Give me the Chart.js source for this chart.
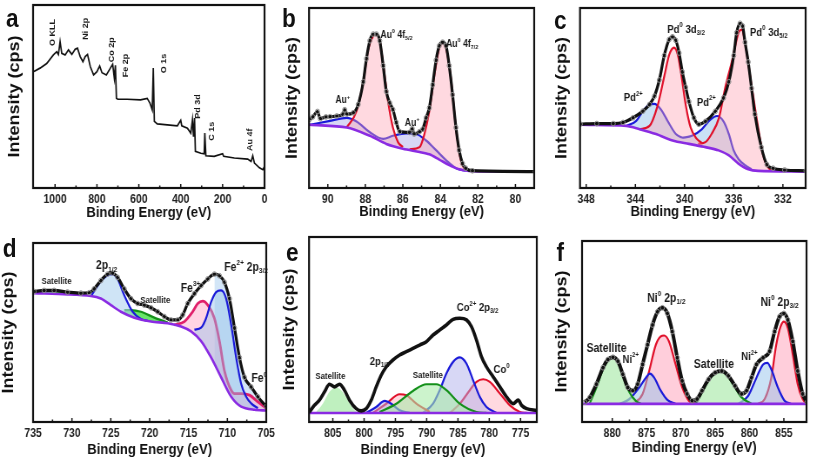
<!DOCTYPE html>
<html><head><meta charset="utf-8">
<script src="https://cdn.jsdelivr.net/npm/chart.js@4/dist/chart.umd.min.js"></script>
<style>
html,body{margin:0;padding:0;background:#fff;overflow:hidden;width:817px;height:465px;}
#fig{position:absolute;left:0;top:0;width:939px;height:465px;transform:scaleX(0.87);transform-origin:0 0;}
canvas{position:absolute;}
.lt{position:absolute;font:bold 26px "Liberation Sans",Arial,sans-serif;color:#111;transform:translate(-50%,-50%);line-height:1;}
</style></head><body>
<div id="fig">
<canvas id="ca" width="318" height="219" style="left:0px;top:3px"></canvas>
<canvas id="cb" width="299" height="219" style="left:320px;top:3px"></canvas>
<canvas id="cc" width="301" height="219" style="left:630px;top:3px"></canvas>
<canvas id="cd" width="319" height="227" style="left:0px;top:238px"></canvas>
<canvas id="ce" width="299" height="230" style="left:320px;top:235px"></canvas>
<canvas id="cf" width="302" height="229" style="left:630px;top:236px"></canvas>
<div class="lt" style="left:14px;top:18px">a</div>
<div class="lt" style="left:332px;top:18px">b</div>
<div class="lt" style="left:644px;top:20px">c</div>
<div class="lt" style="left:11px;top:248px">d</div>
<div class="lt" style="left:336px;top:252px">e</div>
<div class="lt" style="left:644px;top:252px">f</div>
</div>
<script>
const FF = '"Liberation Sans", Arial, sans-serif';

// ---------- tick labels ----------
const a_ticks = [0, 200, 400, 600, 800, 1000];
const b_ticks = [80, 82, 84, 86, 88, 90];
const c_ticks = [332, 336, 340, 344, 348];
const d_ticks = [705, 710, 715, 720, 725, 730, 735];
const e_ticks = [775, 780, 785, 790, 795, 800, 805];
const f_ticks = [855, 860, 865, 870, 875, 880];

// ---------- panel a : survey ----------
const a_survey = [[1101,63.6],[1072,65.5],[1040,68],[1008,72.7],[992,74.5],[984,73],[976,80],[968,73.6],[952,72.7],[936,75.5],[920,73],[904,75.8],[893,76.4],[880,71.8],[867,69],[856,71.8],[845,73],[832,66.4],[816,61.8],[800,63.6],[787,66.7],[776,63],[755,61.8],[736,65.5],[725,67.6],[717,60],[712,67],[707,49],[701,48.5],[656,48.5],[592,48.2],[560,49],[547,46.4],[536,42.7],[531,65.5],[526,36.4],[512,35],[464,34.5],[416,34],[400,37],[395,34],[368,32.7],[352,30],[344,37.3],[339,28],[334,38.2],[330,20],[304,19],[288,18.7],[285,30],[280,17.6],[240,17.3],[200,18.7],[195,17.3],[144,16.4],[80,15.8],[64,14.5],[56,17.6],[48,13.6],[24,11],[8,10],[0,11.8]];
const a_labels = [['O KLL',1011,85],['Ni 2p',853,87],['Co 2p',728,75.5],['Fe 2p',664,67],['O 1s',480,68],['Pd 3d',317,44.5],['C 1s',253,31],['Au 4f',67,26.4]];

// ---------- panel b : Au 4f ----------
const b_bg = [[90.97,35.1],[88.99,33.6],[87.76,29],[86.88,24.5],[86.0,21.8],[85.11,20],[84.59,18.7],[84.06,15.8],[83.53,12.7],[83.0,10.4],[82.47,9.5],[81.59,9.2],[78.94,9.1]];
const b_env = [[90.97,38.2],[90.8,39.5],[90.55,42.5],[90.4,38.5],[90.1,39.5],[89.88,39.6],[89.52,40],[89.2,41],[89.1,43.5],[88.99,41],[88.64,41.8],[88.38,46.4],[88.11,59],[87.94,71.8],[87.76,81.8],[87.58,85.5],[87.41,85.5],[87.23,81.8],[87.05,68],[86.88,53.6],[86.70,47.3],[86.53,43.6],[86.35,36.4],[86.17,31.3],[85.64,30.9],[85.5,33],[85.4,30],[85.11,31.3],[84.94,32.7],[84.76,39],[84.59,44.5],[84.41,57.3],[84.23,71],[84.06,79],[83.88,81],[83.70,79],[83.53,68],[83.35,51.8],[83.17,33.6],[83.0,21],[82.82,13.6],[82.65,11],[82.29,9.6],[78.94,9.1]];
const b_au0a = [[88.99,33.7],[88.47,42.7],[88.11,59],[87.85,77],[87.58,84.5],[87.41,85.5],[87.23,81.8],[87.05,69],[86.79,48.2],[86.53,33.6],[86.26,25.5],[86.0,22.7]];
const b_au0b = [[85.64,21.5],[85.11,22.7],[84.85,30],[84.59,42.7],[84.32,62.7],[84.06,78],[83.88,80.5],[83.70,78],[83.44,61],[83.17,33.6],[82.91,15.5],[82.65,10.4],[82.29,9.6]];
const b_au1 = [[90.97,35.1],[89.88,37.3],[88.99,39],[88.47,37],[87.76,31],[87.05,27.3],[86.53,29],[85.82,30.4],[85.29,30],[84.76,26.4],[84.23,21],[83.70,15.5],[83.17,11],[82.65,9.6]];
const b_labels = [['Au^{0} 4f_{5/2}',87.2,84.8],['Au^{0} 4f_{7/2}',83.7,80],['Au^{+}',89.6,48.5],['Au^{+}',85.9,36]];

// ---------- panel c : Pd 3d ----------
const c_bg = [[348.48,35.1],[344.73,34.5],[343.66,32.7],[342.32,30],[340.98,26.4],[339.64,24.5],[338.30,22.7],[337.23,20.9],[336.42,18.2],[335.62,13.6],[334.81,10.4],[334.01,9.5],[330.12,9.1]];
const c_env = [[348.48,35.5],[347.14,35.8],[345.80,35.8],[345.0,36.4],[344.19,39],[343.39,42.7],[342.85,46.4],[342.45,51],[342.05,60],[341.65,73.6],[341.25,82.5],[340.98,84],[340.71,82],[340.44,75],[340.18,64.5],[339.91,56],[339.64,48],[339.24,39],[338.84,35.4],[338.3,37],[337.5,42.6],[336.83,50],[336.4,59],[336.0,73.6],[335.76,86.3],[335.48,91.5],[335.28,90],[335.08,81],[334.82,70],[334.55,55.4],[334.28,41],[333.75,22.6],[333.3,13],[332.8,11],[331.86,10],[330.12,9.5]];
const c_pd0a = [[343.66,32.7],[342.85,34.5],[342.18,46],[341.65,62],[341.25,74],[340.85,78],[340.55,74],[340.3,64.5],[339.9,46],[339.5,33.5],[339.0,27.3],[338.6,25]];
const c_pd0b = [[338.9,24.5],[338.3,25.5],[337.8,30],[337.2,39],[336.7,55.4],[336.16,70],[335.6,86.3],[335.35,88],[335.08,81],[334.55,57],[334.0,33],[333.6,18],[333.2,11.5],[332.8,9.6]];
const c_pd2a = [[344.73,34.5],[343.93,37.3],[343.39,42.7],[342.85,46.4],[342.45,46.7],[341.92,43.6],[341.38,37.3],[340.71,30],[340.2,27.9]];
const c_pd2b = [[340.2,27.9],[339.4,29],[338.6,32.6],[337.9,38],[337.36,40],[336.83,37],[336.4,30],[336.0,20.8],[335.6,16],[335.08,12.7],[334.55,10.4]];
const c_labels = [['Pd^{0} 3d_{3/2}',341.4,88],['Pd^{0} 3d_{5/2}',334.68,86.4],['Pd^{2+}',344.94,50],['Pd^{2+}',339.0,47.5]];

// ---------- panel d : Fe 2p ----------
const d_bg = [[734.87,72],[730.57,71.3],[727.57,70.4],[726.28,69],[724.99,65.3],[723.70,61.6],[721.98,58.3],[719.83,56.1],[717.68,55.2],[715.96,53.4],[714.67,50.6],[713.38,45.2],[712.09,36],[710.81,25],[709.51,14.1],[708.23,8.6],[706.51,6.8],[705.0,6.4]];
const d_env = [[734.87,72.9],[733.58,73.5],[732.29,73.5],[730.57,72.6],[728.85,72],[727.78,72.2],[727.14,74.4],[726.28,79],[725.42,82.6],[724.77,83.2],[724.13,80.8],[723.27,74.4],[722.41,68.9],[721.55,66.2],[720.69,65.3],[719.83,63.8],[718.97,61.6],[718.11,58.9],[717.25,57],[716.39,57],[715.75,59.8],[715.10,66.2],[714.24,71.7],[713.38,76.2],[712.52,79.9],[711.67,82.6],[711.02,81.7],[710.38,78.1],[709.73,68.9],[709.08,52.5],[708.44,36],[707.80,25],[706.94,19.6],[706.08,14.1],[705.0,8.6]];
const d_fe2a = [[727.57,70.2],[726.28,78.6],[725.42,82],[724.77,82.6],[724.13,79.9],[723.27,70.8],[722.19,61.6],[721.12,57.6],[720.26,56.5]];
const d_fe2b = [[714.24,51.6],[713.38,52.7],[712.74,58],[712.09,67.1],[711.45,72.6],[710.81,73.5],[710.16,68.9],[709.51,54.3],[708.87,36],[708.23,21.4],[707.58,14.1],[706.94,10.4],[706.08,7.7]];
const d_fe3 = [[716.82,54.3],[715.53,56.1],[714.46,61.6],[713.81,66.2],[713.17,67.5],[712.52,65.3],[711.67,58],[711.02,45.2],[710.38,28.7],[709.51,17.7],[709.08,15.9],[708.23,15.9],[707.15,15],[706.08,11.3],[705.0,7.7]];
const d_sat1 = [[734.87,72.6],[733.0,73.2],[731.0,72.4],[729.5,71.2]];
const d_sat2 = [[723.27,62.5],[722.41,62.5],[721.12,61.6],[719.40,58.3],[717.68,55.6]];
const d_labels = [['Satellite',733.9,78.4,9],['2p_{1/2}',726.9,87.2,12],['Satellite',721.2,68,9],['Fe^{3+}',716,74.4,12],['Fe^{2+} 2p_{3/2}',710.4,86.3,12],['Fe^{0}',706.9,24,12]];

// ---------- panel e : Co 2p ----------
const e_bg = [[808.74,4.9],[772.43,4.9]];
const e_env = [[808.74,5.4],[807.94,9],[807.14,11.8],[806.33,16.3],[805.53,20.4],[804.73,19],[803.93,20.4],[803.13,17.2],[802.33,11.8],[801.26,7.2],[800.46,6],[799.66,7.2],[798.86,11.8],[798.06,19],[797.26,25.3],[796.46,29.8],[795.39,33.5],[794.32,36.2],[793.25,38],[792.19,39.8],[791.12,41.6],[790.05,43.4],[788.98,47],[787.92,49.7],[786.85,52.4],[785.78,55.5],[784.71,56.1],[783.64,55.2],[782.84,51.5],[782.04,44.3],[781.24,35.3],[780.44,29.8],[779.37,24.4],[778.3,19],[777.24,13.6],[776.17,9.9],[775.37,11.8],[774.83,9],[774.03,7.2],[772.43,6.3]];
const e_sat1 = [[807.67,5.4],[806.6,9.9],[805.53,16.3],[804.47,18.6],[803.67,17.2],[802.6,11.8],[801.53,6.3],[800.73,4.9]];
const e_sat2 = [[797.53,5.4],[794.86,9.9],[792.19,16.8],[790.05,20.4],[788.45,20.4],[786.85,17.2],[784.71,9.9],[782.04,5.4],[780.44,4.9]];
const e_p12b = [[799.66,4.9],[798.06,8.1],[796.72,11.4],[795.66,9.9],[794.32,6.3],[792.72,4.9]];
const e_p12r = [[798.59,4.9],[796.46,9.9],[794.32,15],[793.25,14.5],[791.65,9.9],[789.52,5.4]];
const e_co2 = [[790.58,4.9],[788.98,9.9],[787.92,17.2],[786.85,26.2],[785.78,32.5],[784.71,34.9],[783.64,31.6],[782.58,22.6],[781.51,13.6],[780.44,8.1],[778.84,4.9]];
const e_co0 = [[786.31,4.9],[784.71,9.9],[783.11,17.2],[782.04,21.7],[780.97,23.1],[779.91,21.7],[778.3,15.4],[776.7,9],[775.1,5.4],[774.03,4.9]];
const e_labels = [['Satellite',807.8,24.4,9],['2p_{1/2}',799.1,32.5,11],['Satellite',792.2,25.3,9],['Co^{2+} 2p_{3/2}',785.2,61.5,11],['Co^{0}',779.3,28,11]];

// ---------- panel f : Ni 2p ----------
const f_bg = [[884.4,10],[851.6,10]];
const f_env = [[883.99,10.9],[883.27,13.6],[882.31,20.9],[881.35,30],[880.63,34.5],[879.9,35.8],[879.18,33.6],[878.46,26.4],[877.74,19.1],[877.02,17.3],[876.3,20.9],[875.58,31.8],[874.86,42.7],[874.13,53.6],[873.41,60.9],[872.69,63.1],[871.97,60],[871.25,50],[870.53,35.5],[869.81,22.7],[869.09,15.5],[868.37,11.8],[867.64,12.7],[866.92,17.3],[865.96,23.6],[865.0,27.3],[864.04,28.2],[863.08,25.5],[862.12,20],[861.15,15.5],[860.43,17.3],[859.71,24.5],[858.99,31.8],[858.03,35.5],[857.07,39.1],[856.35,50],[855.63,58.2],[855.0,60],[854.42,56.4],[853.7,44.5],[852.98,28.2],[852.26,15.5],[851.63,10.9]];
const f_sat1 = [[883.27,10.4],[882.31,19.1],[881.35,29.1],[880.63,34],[879.9,35.5],[879.18,33.1],[878.46,25.8],[877.5,16.4],[876.54,11.5],[875.82,10]];
const f_ni2a = [[878.94,10],[877.5,12.7],[876.06,19.1],[875.1,24.5],[874.52,26.7],[873.89,24.5],[872.93,17.3],[871.97,12.2],[870.77,10]];
const f_ni0a = [[877.02,10],[875.58,15.5],[874.62,28.2],[873.65,42.7],[872.93,47.3],[872.45,47.8],[871.73,44.5],[870.77,31.8],[869.81,19.1],[868.85,11.8],[867.88,10]];
const f_sat2 = [[867.88,10],[866.92,16.4],[865.96,23.3],[865.0,27.3],[864.04,28.2],[863.08,24.9],[862.12,19.1],[861.15,13.6],[859.71,10]];
const f_ni2b = [[861.63,10],[860.19,14.5],[858.99,24.5],[858.03,31.8],[857.4,32.7],[856.83,29.1],[855.87,19.1],[854.9,11.8],[853.94,10]];
const f_ni0b = [[858.75,10],[857.79,12.7],[856.83,24.5],[856.11,42.7],[855.48,52.7],[855.0,55.5],[854.42,51.8],[853.7,37.3],[852.98,20.9],[852.26,12.7],[851.63,10]];
const f_labels = [['Satellite',883.75,40.5,12],['Ni^{2+}',878.5,34.5,11],['Ni^{0} 2p_{1/2}',874.9,68.2,12],['Satellite',868.1,31.5,12],['Ni^{2+}',861.2,35.8,11],['Ni^{0} 2p_{3/2}',858.4,66,12]];

// ---------- styling ----------
const RED = '#e0102a', BLUE = '#1a1ad8', PURP = '#8a2be2', GREEN = '#14901a';
const PINK = 'rgba(255,165,180,0.42)', LAV = 'rgba(175,175,235,0.5)', LBLUE = 'rgba(150,195,235,0.5)';
const P = a => a.map(([x, y]) => ({x, y}));

function bgDs(d) { return {data: P(d), borderColor: PURP, borderWidth: 2.6, pointRadius: 0, fill: false, order: 1, tension: 0.3}; }
function envDs(d, circles) {
  return {data: P(d), borderColor: '#111', borderWidth: 3.2, fill: false, order: 0, cubicInterpolationMode: 'monotone',
    pointRadius: circles ? 2.4 : 0, pointBorderColor: '#8c8c8c', pointBackgroundColor: 'rgba(255,255,255,0)', pointBorderWidth: 1};
}
function peakDs(d, color, fillColor) {
  return {data: P(d), borderColor: color, borderWidth: 2.2, pointRadius: 0, cubicInterpolationMode: 'monotone', order: 2,
    fill: fillColor ? {target: 0} : false, backgroundColor: fillColor || 'transparent'};
}

function drawRich(ctx, txt, x, y, size) {
  const parts = txt.match(/\^\{[^}]*\}|_\{[^}]*\}|[^^_]+/g) || [];
  let cx = x;
  ctx.textAlign = 'left'; ctx.textBaseline = 'middle';
  for (const p of parts) {
    let s = p, fs = size, dy = 0;
    if (p.startsWith('^{')) { s = p.slice(2, -1); fs = size * 0.62; dy = -size * 0.38; }
    else if (p.startsWith('_{')) { s = p.slice(2, -1); fs = size * 0.62; dy = size * 0.3; }
    ctx.font = 'bold ' + fs + 'px ' + FF;
    ctx.fillText(s, cx, y + dy);
    cx += ctx.measureText(s).width;
  }
}

const framePlugin = {
  id: 'frame',
  afterDraw(chart, args, o) {
    const ctx = chart.ctx, ca = chart.chartArea, xs = chart.scales.x, ys = chart.scales.y;
    ctx.save();
    ctx.strokeStyle = '#111'; ctx.lineWidth = 2.2;
    ctx.strokeRect(ca.left, ca.top, ca.right - ca.left, ca.bottom - ca.top);
    ctx.lineWidth = 1.5;
    const ticks = xs.ticks.map(t => t.value).sort((p, q) => p - q);
    for (let i = 0; i < ticks.length; i++) {
      const px = xs.getPixelForValue(ticks[i]);
      ctx.beginPath(); ctx.moveTo(px, ca.bottom); ctx.lineTo(px, ca.bottom - 4); ctx.stroke();
      if (i + 1 < ticks.length) {
        const pm = xs.getPixelForValue((ticks[i] + ticks[i + 1]) / 2);
        ctx.beginPath(); ctx.moveTo(pm, ca.bottom); ctx.lineTo(pm, ca.bottom - 2.5); ctx.stroke();
      }
    }
    ctx.fillStyle = '#111';
    ctx.save();
    ctx.translate(ca.left - o.yOff, (ca.top + ca.bottom) / 2);
    ctx.rotate(-Math.PI / 2);
    ctx.font = 'bold 18px ' + FF; ctx.textAlign = 'center'; ctx.textBaseline = 'middle';
    ctx.fillText('Intensity (cps)', 0, 0);
    ctx.restore();
    ctx.font = 'bold 15px ' + FF; ctx.textAlign = 'center'; ctx.textBaseline = 'middle';
    ctx.fillText('Binding Energy (eV)', (ca.left + ca.right) / 2, ca.bottom + o.xOff);
    ctx.fillStyle = '#1a1a1a';
    for (const L of (o.labels || [])) {
      const px = xs.getPixelForValue(L[1]), py = ys.getPixelForValue(L[2]);
      const size = L[3] || o.labelSize;
      if (o.rotated) {
        ctx.save(); ctx.translate(px, py); ctx.rotate(-Math.PI / 2);
        ctx.font = 'bold ' + size + 'px ' + FF; ctx.textAlign = 'center'; ctx.textBaseline = 'middle';
        ctx.fillText(L[0], 0, 0); ctx.restore();
      } else drawRich(ctx, L[0], px, py, size);
    }
    ctx.restore();
  }
};

function makeChart(id, c) {
  return new Chart(document.getElementById(id), {
    type: 'line',
    data: {datasets: c.datasets},
    options: {
      responsive: false, animation: false, devicePixelRatio: 1,
      layout: {padding: {left: c.padL, top: 2, right: c.padR || 2, bottom: 0}},
      plugins: {legend: {display: false}, tooltip: {enabled: false},
        frame: {yOff: c.yOff, xOff: c.xOff, labels: c.labels, rotated: c.rotated, labelSize: c.labelSize}},
      scales: {
        x: {type: 'linear', reverse: true, min: c.min, max: c.max,
          afterBuildTicks(s) { s.ticks = c.ticks.map(v => ({value: v})); },
          ticks: {autoSkip: false, maxRotation: 0, padding: c.tickPad,
            color: '#222', font: {family: FF, size: 12, weight: 'bold'}, callback: v => String(v)},
          grid: {display: false, drawTicks: false}, border: {display: false},
          afterFit(s) { s.height = c.xh; }},
        y: {display: false, min: 0, max: 100}
      }
    },
    plugins: [framePlugin]
  });
}

makeChart('ca', {padL: 38, padR: 14, yOff: 20.7, xOff: 25, tickPad: 4, xh: 34, min: 0, max: 1105, ticks: a_ticks,
  labels: a_labels, rotated: true, labelSize: 9,
  datasets: [{data: P(a_survey), borderColor: '#111', borderWidth: 1.7, pointRadius: 0, tension: 0, fill: false}]});

makeChart('cb', {padL: 35.2, yOff: 19.6, xOff: 24, tickPad: 4, xh: 34, min: 79, max: 91, ticks: b_ticks,
  labels: b_labels, labelSize: 10,
  datasets: [bgDs(b_bg), envDs(b_env, true), peakDs(b_au0a, RED, PINK), peakDs(b_au0b, RED, PINK), peakDs(b_au1, BLUE, LAV)]});

makeChart('cc', {padL: 36.7, yOff: 20.7, xOff: 24, tickPad: 4, xh: 34, min: 330.15, max: 348.5, ticks: c_ticks,
  labels: c_labels, labelSize: 11,
  datasets: [bgDs(c_bg), envDs(c_env, true), peakDs(c_pd0a, RED, PINK), peakDs(c_pd0b, RED, PINK), peakDs(c_pd2a, BLUE, LBLUE), peakDs(c_pd2b, BLUE, LBLUE)]});

makeChart('cd', {padL: 38, padR: 13, yOff: 27.6, xOff: 28, tickPad: 4, xh: 43, min: 705, max: 735, ticks: d_ticks,
  labels: d_labels, labelSize: 12,
  datasets: [bgDs(d_bg), envDs(d_env, true),
    Object.assign(peakDs(d_env.filter(p => p[0] <= 711.7), 'rgba(0,0,0,0)', 'rgba(175,210,240,0.55)'), {borderWidth: 0, order: 3}),
    peakDs(d_fe2a, BLUE, 'rgba(175,210,240,0.6)'), peakDs(d_fe2b, BLUE, 'rgba(150,195,235,0.45)'),
    Object.assign(peakDs(d_fe3, '#e0206a', 'rgba(255,170,200,0.5)'), {borderWidth: 2.8}),
    peakDs(d_sat1, GREEN, 'rgba(40,220,40,0.7)'), peakDs(d_sat2, GREEN, 'rgba(40,220,40,0.7)')]});

makeChart('ce', {padL: 35.2, yOff: 21.9, xOff: 28, tickPad: 4, xh: 43, min: 772.4, max: 808.8, ticks: e_ticks,
  labels: e_labels, labelSize: 11,
  datasets: [bgDs(e_bg), Object.assign(envDs(e_env, false), {borderWidth: 3.6}),
    peakDs(e_sat1, 'rgba(0,0,0,0)', 'rgba(170,235,170,0.75)'), peakDs(e_sat2, GREEN, 'rgba(170,235,170,0.6)'),
    peakDs(e_p12b, BLUE, LAV), peakDs(e_p12r, RED, PINK), peakDs(e_co2, BLUE, LAV), peakDs(e_co0, RED, PINK)]});

makeChart('cf', {padL: 39, yOff: 23.4, xOff: 26, tickPad: 4, xh: 43, min: 851.7, max: 884.4, ticks: f_ticks,
  labels: f_labels, labelSize: 12,
  datasets: [bgDs(f_bg), Object.assign(envDs(f_env, true), {borderWidth: 4}),
    peakDs(f_sat1, GREEN, 'rgba(175,235,175,0.7)'), peakDs(f_ni2a, BLUE, LBLUE), peakDs(f_ni0a, RED, 'rgba(255,165,190,0.55)'),
    peakDs(f_sat2, GREEN, 'rgba(175,235,175,0.7)'), peakDs(f_ni2b, BLUE, LBLUE), peakDs(f_ni0b, RED, 'rgba(255,165,190,0.55)')]});
</script>
</body></html>
